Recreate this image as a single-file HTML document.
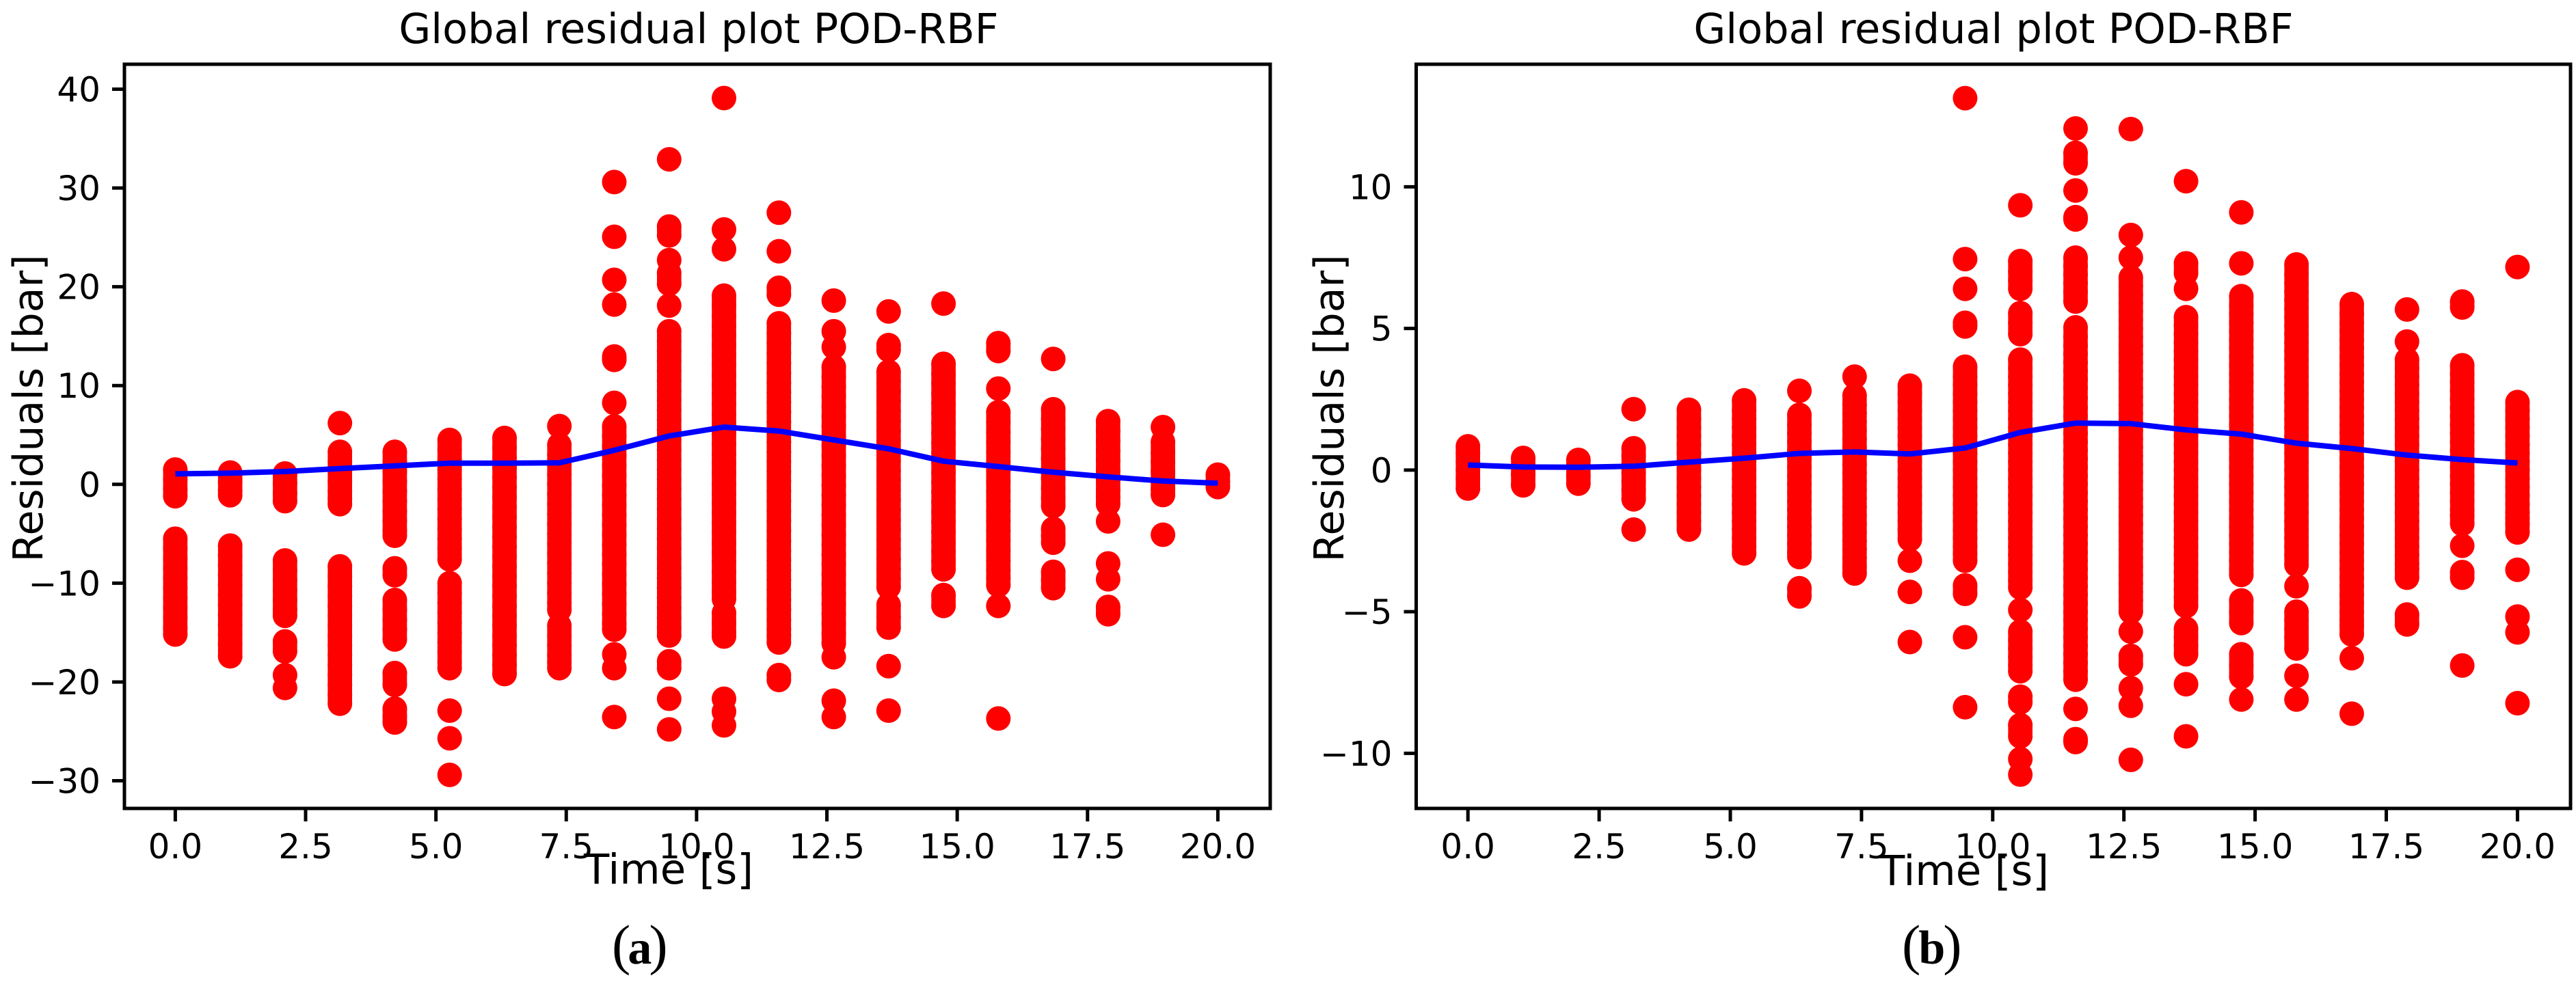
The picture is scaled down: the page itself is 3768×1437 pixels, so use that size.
<!DOCTYPE html>
<html lang="en">
<head>
<meta charset="utf-8">
<title>Global residual plots POD-RBF</title>
<style>
html,body{margin:0;padding:0;background:#fff;width:3768px;height:1437px;overflow:hidden}
svg{display:block}
text{font-family:"DejaVu Sans",sans-serif;fill:#000}
text.cap{font-family:"Liberation Serif",serif}
</style>
</head>
<body>
<svg id="figure" xmlns="http://www.w3.org/2000/svg" width="3768" height="1437" viewBox="0 0 3768 1437"></svg>
<script>
const timeValues = [0,1.053,2.105,3.158,4.211,5.263,6.316,7.368,8.421,9.474,10.526,11.579,12.632,13.684,14.737,15.789,16.842,17.895,18.947,20];
const xTickLabels = ['0.0','2.5','5.0','7.5','10.0','12.5','15.0','17.5','20.0'];
const yTickValuesA = [40,30,20,10,0,-10,-20,-30];
const yTickValuesB = [10,5,0,-5,-10];
const meanResidualA = [1.07,1.14,1.3,1.6,1.87,2.15,2.15,2.18,3.45,4.9,5.8,5.4,4.5,3.6,2.35,1.8,1.23,0.76,0.34,0.12];
const meanResidualB = [0.18,0.11,0.1,0.135,0.28,0.42,0.59,0.64,0.57,0.78,1.33,1.66,1.64,1.42,1.27,0.95,0.76,0.53,0.37,0.25];
const residualsA = [
[1.5,.5,-.5,-1.2,-5.5,-6.5,-7.5,-8.5,-9.5,-10.5,-11.5,-12.5,-13.5,-14.5,-15.2],
[1.2,.2,-.6,-1.1,-6.2,-7.2,-8.2,-9.2,-10.2,-11.2,-12.2,-13.2,-14.2,-15.2,-16.2,-17.4],
[1.1,.1,-.9,-1.7,-7.7,-8.7,-9.7,-10.7,-11.7,-12.7,-13.3,-15.9,-16.9,-19.3,-20.6],
[6.2,3.3,2.3,1.3,.3,-.7,-1.4,-2,-8.3,-9.3,-10.3,-11.3,-12.3,-13.3,-14.3,-15.3,-16.3,-17.3,-18.3,-19.3,-20.3,-21.3,-22.2],
[3.3,2.3,1.3,.3,-.7,-1.7,-2.7,-3.7,-4.7,-5.2,-8.5,-9.2,-11.7,-12.7,-13.7,-14.7,-15.7,-19.1,-20.3,-22.7,-23.5,-24.1],
[4.5,3.5,2.5,1.5,.5,-.5,-1.5,-2.5,-3.5,-4.5,-5.5,-6.5,-7.6,-10,-11,-12,-13,-14,-15,-16,-17,-18,-18.6,-22.9,-25.7,-29.4],
[4.7,3.7,2.7,1.7,.7,-.3,-1.3,-2.3,-3.3,-4.3,-5.3,-6.3,-7.3,-8.3,-9.3,-10.3,-11.3,-12.3,-13.3,-14.3,-15.3,-16.3,-17.3,-18.3,-19.2],
[5.9,4,3,2,1,0,-1,-2,-3,-4,-5,-6,-7,-8,-9,-10,-11,-12,-12.7,-14.3,-15.3,-16.3,-17.3,-18,-18.6],
[30.6,25.06,20.7,18.2,12.95,12.6,8.25,5.87,4.9,3.9,2.9,1.9,.9,-.1,-1.1,-2.1,-3.1,-4.1,-5.1,-6.1,-7.1,-8.1,-9.1,-10.1,-11.1,-12.1,-13.1,-14.1,-14.7,-17.2,-18.6,-23.55],
[32.9,26.1,25.2,22.7,21.4,20.3,18.1,15.5,14.5,13.5,12.5,11.5,10.5,9.5,8.5,7.5,6.5,5.5,4.5,3.5,2.5,1.5,.5,-.5,-1.5,-2.5,-3.5,-4.5,-5.5,-6.5,-7.5,-8.5,-9.5,-10.5,-11.5,-12.5,-13.5,-14.5,-15.3,-17.9,-18.6,-21.7,-24.8],
[39.1,25.8,23.8,19.1,18.1,17.1,16.1,15.1,14.1,13.1,12.1,11.1,10.1,9.1,8.1,7.1,6.1,5.1,4.1,3.1,2.1,1.1,.1,-.9,-1.9,-2.9,-3.9,-4.9,-5.9,-6.9,-7.9,-8.9,-9.9,-10.9,-11.6,-13,-14,-15,-15.4,-21.7,-23,-24.4],
[27.5,23.6,19.9,19.2,16.3,15.3,14.3,13.3,12.3,11.3,10.3,9.3,8.3,7.3,6.3,5.3,4.3,3.3,2.3,1.3,.3,-.7,-1.7,-2.7,-3.7,-4.7,-5.7,-6.7,-7.7,-8.7,-9.7,-10.7,-11.7,-12.7,-13.7,-14.7,-15.3,-16,-19.3,-19.8],
[18.6,15.5,13.9,11.9,10.9,9.9,8.9,7.9,6.9,5.9,4.9,3.9,2.9,1.9,.9,-.1,-1.1,-2.1,-3.1,-4.1,-5.1,-6.1,-7.1,-8.1,-9.1,-10.1,-11.1,-12.1,-13.1,-14.1,-15.1,-16.1,-17.5,-21.9,-23.55],
[17.5,14.1,13.6,11.4,10.4,9.4,8.4,7.4,6.4,5.4,4.4,3.4,2.4,1.4,.4,-.6,-1.6,-2.6,-3.6,-4.6,-5.6,-6.6,-7.6,-8.6,-9.6,-10.4,-12.2,-13.4,-14.5,-18.4,-22.9],
[18.3,12.2,11.2,10.2,9.2,8.2,7.2,6.2,5.2,4.2,3.2,2.2,1.2,.2,-.8,-1.8,-2.8,-3.8,-4.8,-5.8,-6.8,-7.8,-8.6,-11.2,-12.3],
[14.3,13.5,9.7,7.3,6.3,5.3,4.3,3.3,2.3,1.3,.3,-.7,-1.7,-2.7,-3.7,-4.7,-5.7,-6.7,-7.7,-8.7,-9.5,-10.2,-12.3,-23.7],
[12.7,7.6,6.6,5.6,4.6,3.6,2.6,1.6,.6,-.4,-1.4,-2.2,-4.5,-5.2,-5.9,-8.85,-9.7,-10.5],
[6.4,5.4,4.4,3.4,2.4,1.4,.4,-.6,-1.3,-2,-3.75,-8,-9.6,-12.4,-13.15],
[5.8,4.3,3.2,2.3,1.3,.3,-.5,-1.08,-5.1],
[.98,.3,-.27]
];
const residualsB = [
[.84,.6,.3,0,-.3,-.65],
[.43,.15,-.15,-.54],
[.36,.1,-.2,-.48],
[2.15,.77,.5,.2,-.1,-.4,-.7,-1.03,-2.1],
[2.13,1.8,1.5,1.2,.9,.6,.3,0,-.3,-.6,-.9,-1.2,-1.5,-1.8,-2.1],
[2.46,2.1,1.8,1.5,1.2,.9,.6,.3,0,-.3,-.6,-.9,-1.2,-1.5,-1.8,-2.1,-2.4,-2.7,-2.94],
[2.8,1.95,1.6,1.3,1,.7,.4,.1,-.2,-.5,-.8,-1.1,-1.4,-1.7,-2,-2.3,-2.6,-2.9,-3.07,-4.17,-4.46],
[3.3,2.63,2.3,2,1.7,1.4,1.1,.8,.5,.2,-.1,-.4,-.7,-1,-1.3,-1.6,-1.9,-2.2,-2.5,-2.8,-3.1,-3.4,-3.65],
[2.98,2.7,2.4,2.1,1.8,1.5,1.2,.9,.6,.3,0,-.3,-.6,-.9,-1.2,-1.5,-1.8,-2.1,-2.45,-3.2,-4.3,-6.07],
[13.13,7.45,6.4,5.2,5.07,3.65,3.3,3,2.7,2.4,2.1,1.8,1.5,1.2,.9,.6,.3,0,-.3,-.6,-.9,-1.2,-1.5,-1.8,-2.1,-2.4,-2.7,-2.95,-3.2,-4.07,-4.37,-5.9,-8.37],
[9.35,7.38,7,6.7,6.4,5.54,5.2,4.8,3.9,3.6,3.3,3,2.7,2.4,2.1,1.8,1.5,1.2,.9,.6,.3,0,-.3,-.6,-.9,-1.2,-1.5,-1.8,-2.1,-2.4,-2.7,-3,-3.3,-3.6,-3.9,-4.15,-4.94,-5.7,-6,-6.3,-6.6,-6.9,-7.1,-8,-8.2,-9,-9.4,-10.2,-10.75],
[12.06,11.2,10.83,9.87,8.93,8.85,7.5,7.2,6.9,6.6,6.3,5.95,5.04,4.7,4.4,4.1,3.8,3.5,3.2,2.9,2.55,2.2,1.9,1.6,1.3,1,.7,.4,.1,-.2,-.5,-.8,-1.1,-1.4,-1.7,-2,-2.3,-2.6,-2.9,-3.2,-3.5,-3.8,-4.1,-4.4,-4.7,-5,-5.3,-5.6,-5.9,-6.2,-6.5,-6.8,-7.1,-7.4,-8.43,-9.5,-9.6],
[12.04,8.3,7.5,6.8,6.5,6.2,5.9,5.6,5.3,5,4.7,4.4,4.1,3.8,3.5,3.2,2.9,2.6,2.3,2,1.7,1.4,1.1,.8,.5,.2,-.1,-.4,-.7,-1,-1.3,-1.6,-1.9,-2.2,-2.5,-2.8,-3.1,-3.4,-3.7,-4,-4.3,-4.6,-5,-5.7,-6.56,-6.86,-7.7,-8.32,-10.23],
[10.2,7.3,6.95,6.4,5.4,5.1,4.8,4.5,4.2,3.9,3.6,3.3,3,2.7,2.4,2.1,1.8,1.5,1.2,.9,.6,.3,0,-.3,-.6,-.9,-1.2,-1.5,-1.8,-2.1,-2.4,-2.7,-3,-3.3,-3.6,-3.9,-4.2,-4.5,-4.8,-5.6,-5.9,-6.2,-6.5,-7.56,-9.4],
[9.1,7.3,6.14,5.8,5.5,5.2,4.9,4.6,4.3,4,3.7,3.4,3.1,2.8,2.5,2.2,1.9,1.6,1.3,1,.7,.4,.1,-.2,-.5,-.8,-1.1,-1.4,-1.7,-2,-2.3,-2.6,-2.9,-3.2,-3.5,-3.7,-4.6,-5,-5.4,-6.5,-6.9,-7.3,-8.1],
[7.26,6.9,6.6,6.3,6,5.7,5.4,5.1,4.8,4.5,4.2,3.9,3.6,3.3,3,2.7,2.4,2.1,1.8,1.5,1.2,.9,.6,.3,0,-.3,-.6,-.9,-1.2,-1.5,-1.8,-2.1,-2.4,-2.7,-3,-3.35,-4.1,-5,-5.3,-5.6,-5.9,-6.3,-7.26,-8.1],
[5.86,5.5,5.2,4.9,4.6,4.3,4,3.7,3.4,3.1,2.8,2.5,2.2,1.9,1.6,1.3,1,.7,.4,.1,-.2,-.5,-.8,-1.1,-1.4,-1.7,-2,-2.3,-2.6,-2.9,-3.2,-3.5,-3.8,-4.1,-4.4,-4.7,-5,-5.3,-5.5,-5.8,-6.64,-8.6],
[5.67,4.54,3.9,3.6,3.3,3,2.7,2.4,2.1,1.8,1.5,1.2,.9,.6,.3,0,-.3,-.6,-.9,-1.2,-1.5,-1.8,-2.1,-2.4,-2.7,-3,-3.3,-3.5,-3.8,-5.1,-5.45],
[5.95,5.74,3.7,3.4,3.1,2.8,2.5,2.2,1.9,1.6,1.3,1,.7,.4,.1,-.2,-.5,-.8,-1.1,-1.4,-1.6,-1.9,-2.67,-3.6,-3.8,-6.9],
[7.17,2.4,2.1,1.8,1.5,1.2,.9,.6,.3,0,-.3,-.6,-.9,-1.2,-1.5,-1.7,-1.9,-2.2,-3.52,-5.17,-5.73,-8.23]
];

const SVG_NS = 'http://www.w3.org/2000/svg';
const figure = document.getElementById('figure');
function make(parent, tag, attrs) {
  const el = document.createElementNS(SVG_NS, tag);
  for (const k in attrs) el.setAttribute(k, attrs[k]);
  parent.appendChild(el);
  return el;
}
function drawPanel(p) {
  const xAt = t => p.x0 + p.xPerUnit * t;
  const yAt = v => p.y0 - p.yPerUnit * v;
  const g = make(figure, 'g', {});
  
  

  const dots = make(g, 'g', {fill: '#f00'});
  
  
  p.residuals.forEach((col, i) => {
    const cx = xAt(timeValues[i]);
    col.forEach((v, j) => {
      const c = make(dots, 'circle', {cx: cx, cy: yAt(v), r: 18});
      
      
      // densely overlapping neighbours read as a solid run in the original
      if (j > 0 && yAt(v) - yAt(col[j - 1]) < 17.5) {
        const run = make(dots, 'line', {x1: cx, x2: cx, y1: yAt(col[j - 1]), y2: yAt(v), stroke: '#f00', 'stroke-width': 35.6});
        
        
      }
    });
  });

  const line = make(g, 'polyline', {
    points: p.mean.map((v, i) => xAt(timeValues[i]) + ',' + yAt(v)).join(' '),
    fill: 'none', stroke: '#00f', 'stroke-width': 8, 'stroke-linejoin': 'round'
  });
  
  

  const frame = make(g, 'rect', {x: p.left, y: p.top, width: p.right - p.left, height: p.bottom - p.top, fill: 'none', stroke: '#000', 'stroke-width': 5});
  
  

  xTickLabels.forEach(label => {
    const x = xAt(parseFloat(label));
    const tick = make(g, 'line', {x1: x, x2: x, y1: p.bottom, y2: p.bottom + 19, stroke: '#000', 'stroke-width': 5});
    
    
    const txt = make(g, 'text', {x: x, y: 1256, 'text-anchor': 'middle', 'font-size': 50});
    txt.textContent = label;
    
    
  });
  p.yTicks.forEach(v => {
    const y = yAt(v);
    const tick = make(g, 'line', {x1: p.left, x2: p.left - 18, y1: y, y2: y, stroke: '#000', 'stroke-width': 5});
    
    
    const txt = make(g, 'text', {x: p.left - 35, y: y + 18, 'text-anchor': 'end', 'font-size': 50});
    txt.textContent = String(v).replace('-', '\u2212');
    
    
  });

  const title = make(g, 'text', {x: p.titleX, y: 63, 'text-anchor': 'middle', 'font-size': 60.5});
  title.textContent = 'Global residual plot POD-RBF';
  
  

  const xt = make(g, 'text', {x: p.xLabelX, y: p.xLabelY, 'text-anchor': 'middle', 'font-size': 61});
  xt.textContent = 'Time [s]';
  
  

  const yt = make(g, 'text', {x: 0, y: 0, 'text-anchor': 'middle', 'font-size': 60, transform: 'translate(' + p.yLabelX + ',597.5) rotate(-90)'});
  yt.textContent = 'Residuals [bar]';
  
  

  const cap = make(g, 'text', {x: p.capX, y: 1410, class: 'cap', 'font-size': 82});
  
  
  cap.appendChild(document.createTextNode('('));
  const letter = make(cap, 'tspan', {'font-weight': 'bold', 'font-size': 70, dx: p.capKern});
  letter.textContent = p.capLetter;
  const close = make(cap, 'tspan', {dx: p.capKern});
  close.textContent = ')';
}
drawPanel({name: 'panel-a', residuals: residualsA, mean: meanResidualA, yTicks: yTickValuesA,
  x0: 256.4, xPerUnit: 76.25, y0: 708.8, yPerUnit: 14.457,
  left: 182, right: 1858, top: 94, bottom: 1183,
  titleX: 1022, xLabelX: 978, xLabelY: 1293, yLabelX: 62, capX: 895, capKern: -4, capLetter: 'a'});
drawPanel({name: 'panel-b', residuals: residualsB, mean: meanResidualB, yTicks: yTickValuesB,
  x0: 2147.2, xPerUnit: 76.76, y0: 687.9, yPerUnit: 41.45,
  left: 2071.5, right: 3760, top: 94, bottom: 1183,
  titleX: 2916, xLabelX: 2873, xLabelY: 1295, yLabelX: 1965, capX: 2782, capKern: -3, capLetter: 'b'});
</script>
</body>
</html>
